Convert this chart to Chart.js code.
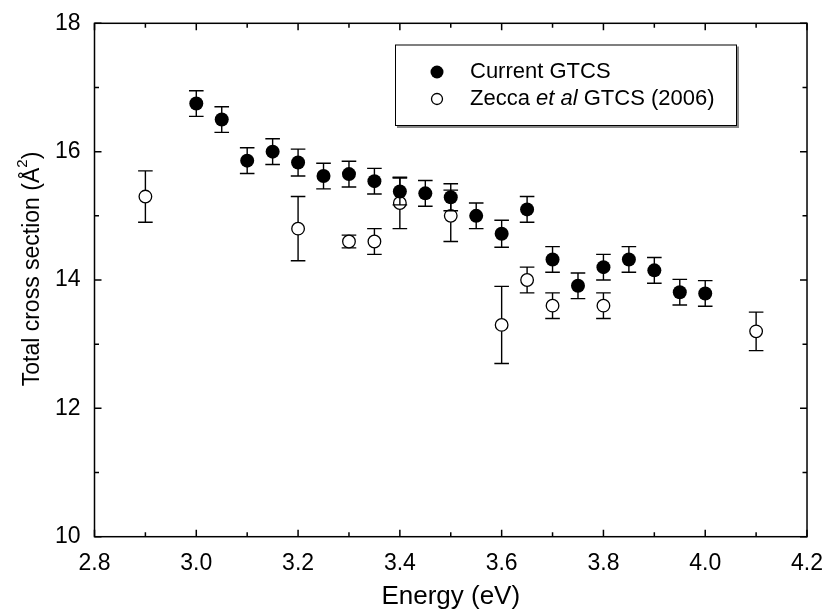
<!DOCTYPE html>
<html>
<head>
<meta charset="utf-8">
<script src="https://cdn.jsdelivr.net/npm/chart.js@4.4.1/dist/chart.umd.min.js"></script>
<style>
  html, body { margin: 0; padding: 0; background: #fff; }
  #wrap { width: 828px; height: 612px; position: relative; }
</style>
</head>
<body>
<div id="wrap"><canvas id="c" width="828" height="612"></canvas></div>
<script>
// ---- data ----
const energyCurrent = [3.00, 3.05, 3.10, 3.15, 3.20, 3.25, 3.30, 3.35, 3.40, 3.45, 3.50, 3.55, 3.60, 3.65, 3.70, 3.75, 3.80, 3.85, 3.90, 3.95, 4.00];
const tcsCurrent    = [16.75, 16.50, 15.86, 16.00, 15.83, 15.62, 15.65, 15.54, 15.38, 15.35, 15.29, 15.00, 14.72, 15.10, 14.32, 13.91, 14.20, 14.32, 14.15, 13.81, 13.79];
const errCurrent    = [0.20, 0.20, 0.20, 0.20, 0.21, 0.20, 0.20, 0.20, 0.21, 0.20, 0.21, 0.20, 0.21, 0.20, 0.20, 0.20, 0.20, 0.20, 0.20, 0.20, 0.20];

const energyZecca = [2.90, 3.20, 3.30, 3.35, 3.40, 3.50, 3.60, 3.65, 3.70, 3.80, 4.10];
const tcsZecca    = [15.30, 14.80, 14.60, 14.60, 15.20, 15.00, 13.30, 14.00, 13.60, 13.60, 13.20];
const errZecca    = [0.40, 0.50, 0.10, 0.20, 0.40, 0.40, 0.60, 0.20, 0.20, 0.20, 0.30];

const xTickValues = [2.8, 3.0, 3.2, 3.4, 3.6, 3.8, 4.0, 4.2];
const yTickValues = [10, 12, 14, 16, 18];
const xMinorValues = [2.9, 3.1, 3.3, 3.5, 3.7, 3.9, 4.1];
const yMinorValues = [11, 13, 15, 17];

const seriesNames = ['Current GTCS', 'Zecca et al GTCS (2006)'];
const xTitle = 'Energy (eV)';
const yTitleParts = ['Total cross section (Å', '2', ')'];

const FONT = '"Liberation Sans", Arial, Helvetica, sans-serif';

// ---- plugins ----
const errorBars = {
  id: 'errorBars',
  beforeDatasetDraw(chart, args) {
    const ds = chart.data.datasets[args.index];
    if (!ds.errors) return;
    const xs = chart.scales.x, ys = chart.scales.y, ctx = chart.ctx;
    ctx.save();
    ctx.strokeStyle = '#000';
    ctx.lineWidth = 1.4;
    const hw = 7.3;
    ds.data.forEach((p, k) => {
      const e = ds.errors[k];
      const px = xs.getPixelForValue(p.x);
      const t = ys.getPixelForValue(p.y + e);
      const b = ys.getPixelForValue(p.y - e);
      ctx.beginPath();
      ctx.moveTo(px, t); ctx.lineTo(px, b);
      ctx.moveTo(px - hw, t); ctx.lineTo(px + hw, t);
      ctx.moveTo(px - hw, b); ctx.lineTo(px + hw, b);
      ctx.stroke();
    });
    ctx.restore();
  }
};

const frameTicks = {
  id: 'frameTicks',
  afterDatasetsDraw(chart) {
    const a = chart.chartArea, xs = chart.scales.x, ys = chart.scales.y, ctx = chart.ctx;
    ctx.save();
    ctx.strokeStyle = '#000';
    ctx.lineWidth = 1.5;
    ctx.strokeRect(a.left, a.top, a.right - a.left, a.bottom - a.top);
    ctx.beginPath();
    const major = 7, minor = 4.5;
    xTickValues.forEach(v => {
      const p = xs.getPixelForValue(v);
      ctx.moveTo(p, a.bottom); ctx.lineTo(p, a.bottom - major);
      ctx.moveTo(p, a.top); ctx.lineTo(p, a.top + major);
    });
    xMinorValues.forEach(v => {
      const p = xs.getPixelForValue(v);
      ctx.moveTo(p, a.bottom); ctx.lineTo(p, a.bottom - minor);
      ctx.moveTo(p, a.top); ctx.lineTo(p, a.top + minor);
    });
    yTickValues.forEach(v => {
      const p = ys.getPixelForValue(v);
      ctx.moveTo(a.left, p); ctx.lineTo(a.left + major, p);
      ctx.moveTo(a.right, p); ctx.lineTo(a.right - major, p);
    });
    yMinorValues.forEach(v => {
      const p = ys.getPixelForValue(v);
      ctx.moveTo(a.left, p); ctx.lineTo(a.left + minor, p);
      ctx.moveTo(a.right, p); ctx.lineTo(a.right - minor, p);
    });
    ctx.stroke();
    ctx.restore();
  }
};

const yTitlePlugin = {
  id: 'yTitlePlugin',
  afterDraw(chart) {
    const ctx = chart.ctx;
    ctx.save();
    ctx.translate(33, 269);
    ctx.rotate(-Math.PI / 2);
    ctx.fillStyle = '#000';
    ctx.textAlign = 'left';
    ctx.textBaseline = 'middle';
    const segs = [
      { s: yTitleParts[0], f: '23px ' + FONT, dy: 0 },
      { s: yTitleParts[1], f: '15px ' + FONT, dy: -10 },
      { s: yTitleParts[2], f: '23px ' + FONT, dy: 0 }
    ];
    let total = 0;
    segs.forEach(g => { ctx.font = g.f; g.w = ctx.measureText(g.s).width; total += g.w; });
    let x = -total / 2;
    segs.forEach(g => { ctx.font = g.f; ctx.fillText(g.s, x, g.dy); x += g.w; });
    ctx.restore();
  }
};

const legendBox = {
  id: 'legendBox',
  afterDraw(chart) {
    const ctx = chart.ctx;
    const L = 395, T = 44.5, W = 342, H = 81.5;
    ctx.save();
    // shadow
    ctx.fillStyle = '#888';
    ctx.fillRect(L + 2, T + 2, W, H);
    ctx.fillStyle = '#fff';
    ctx.fillRect(L, T, W, H);
    ctx.strokeStyle = '#000';
    ctx.lineWidth = 1;
    ctx.strokeRect(L + 0.5, T + 0.5, W - 1, H - 1);
    const mx = 437, r1 = 72, r2 = 99, tx = 470;
    // markers
    ctx.fillStyle = '#000';
    ctx.beginPath(); ctx.arc(mx, r1, 6.5, 0, Math.PI * 2); ctx.fill();
    ctx.beginPath(); ctx.arc(mx, r2, 5.5, 0, Math.PI * 2);
    ctx.fillStyle = '#fff'; ctx.fill();
    ctx.lineWidth = 1.3; ctx.strokeStyle = '#000'; ctx.stroke();
    // texts
    ctx.fillStyle = '#000';
    ctx.textBaseline = 'middle';
    ctx.textAlign = 'left';
    ctx.font = '22px ' + FONT;
    ctx.fillText(seriesNames[0], tx, r1);
    const parts = [['Zecca ', ''], ['et al', 'italic '], [' GTCS (2006)', '']];
    let x = tx;
    parts.forEach(([s, st]) => {
      ctx.font = st + '22px ' + FONT;
      ctx.fillText(s, x, r2);
      x += ctx.measureText(s).width;
    });
    ctx.restore();
  }
};

// ---- chart ----
const ctx = document.getElementById('c').getContext('2d');
new Chart(ctx, {
  type: 'scatter',
  data: {
    datasets: [
      {
        label: seriesNames[0],
        data: energyCurrent.map((x, i) => ({ x, y: tcsCurrent[i] })),
        errors: errCurrent,
        pointRadius: 7,
        pointBackgroundColor: '#000',
        pointBorderColor: '#000',
        pointBorderWidth: 0,
        showLine: false
      },
      {
        label: seriesNames[1],
        data: energyZecca.map((x, i) => ({ x, y: tcsZecca[i] })),
        errors: errZecca,
        pointRadius: 6.3,
        pointBackgroundColor: '#fff',
        pointBorderColor: '#000',
        pointBorderWidth: 1.3,
        showLine: false
      }
    ]
  },
  options: {
    responsive: false,
    animation: false,
    devicePixelRatio: 1,
    layout: { padding: { left: 0, top: 23.3, right: 19.7, bottom: 0 } },
    plugins: {
      legend: { display: false },
      tooltip: { enabled: false }
    },
    scales: {
      x: {
        type: 'linear',
        min: 2.8, max: 4.2,
        afterBuildTicks(scale) { scale.ticks = xTickValues.map(v => ({ value: v })); },
        afterFit(scale) { scale.height = 75.3; },
        grid: { display: false },
        border: { display: false },
        ticks: {
          padding: 5,
          color: '#000',
          font: { family: FONT, size: 23 },
          maxRotation: 0,
          autoSkip: false,
          callback: v => Number(v).toFixed(1)
        },
        title: {
          display: true,
          text: xTitle,
          color: '#000',
          font: { family: FONT, size: 26 },
          padding: { top: 0, bottom: 0 }
        }
      },
      y: {
        type: 'linear',
        min: 10, max: 18,
        afterBuildTicks(scale) { scale.ticks = yTickValues.map(v => ({ value: v })); },
        afterFit(scale) { scale.width = 94.5; },
        grid: { display: false },
        border: { display: false },
        ticks: {
          padding: 6,
          color: '#000',
          font: { family: FONT, size: 23 },
          autoSkip: false,
          callback: v => String(v)
        }
      }
    }
  },
  plugins: [errorBars, frameTicks, yTitlePlugin, legendBox]
});
</script>
</body>
</html>
